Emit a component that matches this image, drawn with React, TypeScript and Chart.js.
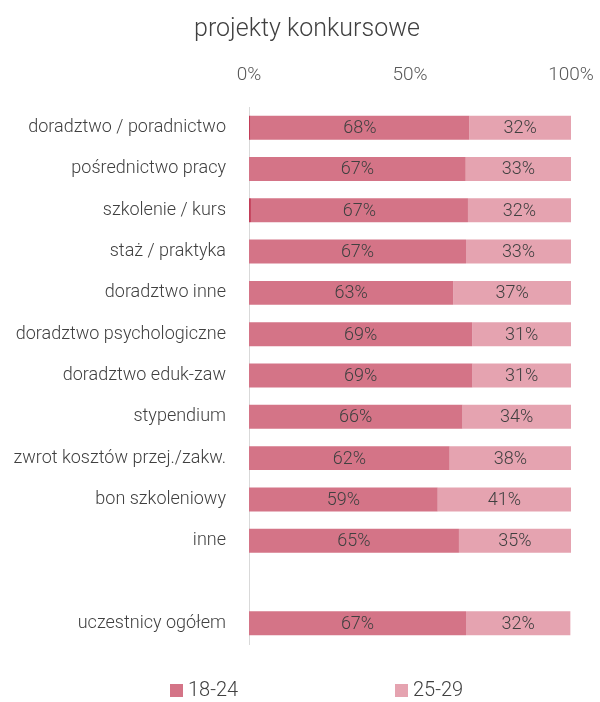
import React, { useEffect, useRef } from 'react';
import { Chart, registerables } from 'chart.js';

Chart.register(...registerables);

const TITLE = 'projekty konkursowe';

const categories = [
  'doradztwo / poradnictwo',
  'pośrednictwo pracy',
  'szkolenie / kurs',
  'staż / praktyka',
  'doradztwo inne',
  'doradztwo psychologiczne',
  'doradztwo eduk-zaw',
  'stypendium',
  'zwrot kosztów przej./zakw.',
  'bon szkoleniowy',
  'inne',
  '',
  'uczestnicy ogółem',
];

// tiny unlabeled share visible as a thin dark sliver at the start of two bars
const otherShare = [0.5, 0, 0.6, 0, 0, 0, 0, 0, 0, 0, 0, null, 0];
const age18to24 = [67.9, 67.3, 67.4, 67.4, 63.4, 69.3, 69.4, 66.3, 62.3, 58.6, 65.2, null, 67.4];
const age25to29 = [31.6, 32.7, 32.0, 32.6, 36.6, 30.7, 30.6, 33.7, 37.7, 41.4, 34.8, null, 32.4];

const seriesNames = ['inne', '18-24', '25-29'];
const xTicks = [0, 50, 100];

const COLORS = ['#c23d58', '#d47487', '#e5a3b0'];
const FONT = 'Roboto';
const WEIGHT = 300;
const TEXT = '#404040';

const titlePlugin = {
  id: 'customTitle',
  afterDraw(chart: any) {
    const ctx = chart.ctx;
    ctx.save();
    ctx.font = `${WEIGHT} 25px ${FONT}`;
    ctx.fillStyle = TEXT;
    ctx.textAlign = 'center';
    ctx.textBaseline = 'middle';
    ctx.fillText(TITLE, 307, 30);
    ctx.restore();
  },
};

const valueLabels = {
  id: 'valueLabels',
  afterDatasetsDraw(chart: any) {
    const ctx = chart.ctx;
    ctx.save();
    ctx.font = `${WEIGHT} 18px ${FONT}`;
    ctx.fillStyle = TEXT;
    ctx.textAlign = 'center';
    ctx.textBaseline = 'middle';
    chart.data.datasets.forEach((ds: any, di: number) => {
      if (di === 0) return;
      const meta = chart.getDatasetMeta(di);
      meta.data.forEach((el: any, i: number) => {
        const v = ds.data[i];
        if (v == null || v < 3) return;
        const p = el.getProps(['x', 'y', 'base'], true);
        ctx.fillText(Math.round(v) + '%', (p.x + p.base) / 2, p.y + 1);
      });
    });
    ctx.restore();
  },
};

const legendPlugin = {
  id: 'customLegend',
  afterDraw(chart: any) {
    const ctx = chart.ctx;
    const items = [
      { idx: 1, x: 170 },
      { idx: 2, x: 395 },
    ];
    ctx.save();
    ctx.font = `${WEIGHT} 20px ${FONT}`;
    ctx.textBaseline = 'middle';
    ctx.textAlign = 'left';
    items.forEach((it) => {
      const ds = chart.data.datasets[it.idx];
      ctx.fillStyle = ds.backgroundColor;
      ctx.fillRect(it.x, 684, 13, 13);
      ctx.fillStyle = TEXT;
      ctx.fillText(ds.label, it.x + 18, 691);
    });
    ctx.restore();
  },
};

export default function App() {
  const ref = useRef<HTMLCanvasElement | null>(null);

  useEffect(() => {
    document.body.style.margin = '0';
    const canvas = ref.current;
    if (!canvas) return;
    const series = [otherShare, age18to24, age25to29];
    const chart = new Chart(canvas, {
      type: 'bar',
      data: {
        labels: categories,
        datasets: series.map((d, i) => ({
          label: seriesNames[i],
          data: d,
          backgroundColor: COLORS[i],
          borderWidth: 0,
          barPercentage: 0.58,
          categoryPercentage: 1,
        })),
      },
      options: {
        indexAxis: 'y',
        responsive: false,
        animation: false,
        maintainAspectRatio: false,
        layout: { padding: { top: 64, right: 29, bottom: 58, left: 0 } },
        plugins: {
          legend: { display: false },
          title: { display: false },
          tooltip: { enabled: false },
        },
        scales: {
          x: {
            position: 'top',
            stacked: true,
            min: 0,
            max: 100,
            afterBuildTicks: (s: any) => {
              s.ticks = xTicks.map((v) => ({ value: v }));
            },
            afterFit: (s: any) => {
              s.paddingLeft = 0;
              s.paddingRight = 0;
              s.height = 43;
            },
            grid: { display: false, drawTicks: false, tickLength: 0 },
            border: { display: false },
            ticks: {
              padding: 20,
              color: '#595959',
              font: { family: FONT, size: 19, weight: WEIGHT },
              callback: (v: any) => v + '%',
            },
          },
          y: {
            stacked: true,
            afterFit: (s: any) => {
              s.width = 249;
            },
            grid: { display: false, drawTicks: false, tickLength: 0 },
            border: { display: true, color: '#d9d9d9', width: 1 },
            ticks: {
              padding: 23,
              color: TEXT,
              font: { family: FONT, size: 18, weight: WEIGHT },
              autoSkip: false,
            },
          },
        },
      },
      plugins: [titlePlugin, valueLabels, legendPlugin],
    } as any);
    return () => chart.destroy();
  }, []);

  return (
    <div style={{ width: 600, height: 702, position: 'relative', overflow: 'hidden' }}>
      <canvas ref={ref} width={600} height={702} style={{ width: 600, height: 702, display: 'block' }} />
    </div>
  );
}
